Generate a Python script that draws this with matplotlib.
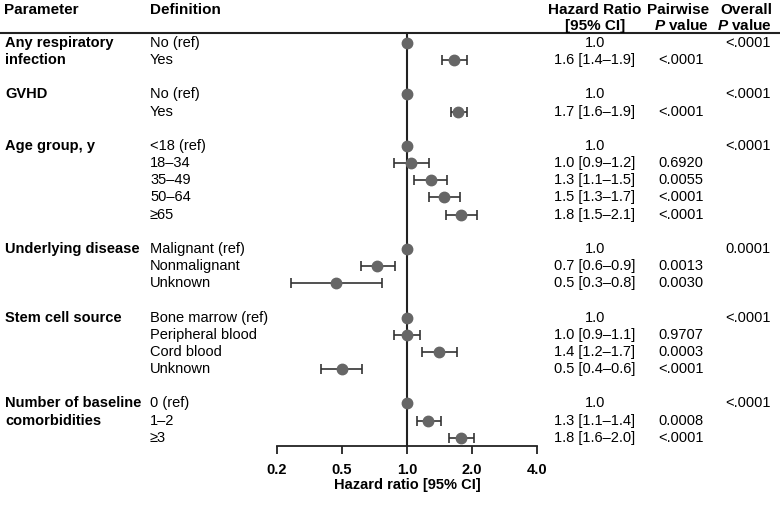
import matplotlib.pyplot as plt
import matplotlib.transforms as mtransforms
from matplotlib.lines import Line2D

plt.rcParams['font.family'] = ['Liberation Sans', 'DejaVu Sans']
plt.rcParams['mathtext.fontset'] = 'custom'
plt.rcParams['mathtext.it'] = 'Liberation Sans:italic:bold'
plt.rcParams['mathtext.rm'] = 'Liberation Sans:bold'

# data
groups = ["Any respiratory\ninfection", "GVHD", "Age group, y", "Underlying disease",
          "Stem cell source", "Number of baseline\ncomorbidities"]
definitions = [
    ["No (ref)", "Yes"],
    ["No (ref)", "Yes"],
    ["<18 (ref)", "18\u201334", "35\u201349", "50\u201364", "\u226565"],
    ["Malignant (ref)", "Nonmalignant", "Unknown"],
    ["Bone marrow (ref)", "Peripheral blood", "Cord blood", "Unknown"],
    ["0 (ref)", "1\u20132", "\u22653"],
]
hr = [
    [1.0, 1.65],
    [1.0, 1.72],
    [1.0, 1.04, 1.29, 1.49, 1.78],
    [1.0, 0.73, 0.47],
    [1.0, 1.0, 1.41, 0.5],
    [1.0, 1.255, 1.78],
]
ci_low = [
    [None, 1.45],
    [None, 1.6],
    [None, 0.87, 1.08, 1.27, 1.51],
    [None, 0.61, 0.29],
    [None, 0.87, 1.17, 0.4],
    [None, 1.11, 1.57],
]
ci_high = [
    [None, 1.9],
    [None, 1.89],
    [None, 1.26, 1.54, 1.76, 2.12],
    [None, 0.88, 0.77],
    [None, 1.15, 1.70, 0.62],
    [None, 1.44, 2.04],
]
hr_text = [
    ["1.0", "1.6 [1.4\u20131.9]"],
    ["1.0", "1.7 [1.6\u20131.9]"],
    ["1.0", "1.0 [0.9\u20131.2]", "1.3 [1.1\u20131.5]", "1.5 [1.3\u20131.7]", "1.8 [1.5\u20132.1]"],
    ["1.0", "0.7 [0.6\u20130.9]", "0.5 [0.3\u20130.8]"],
    ["1.0", "1.0 [0.9\u20131.1]", "1.4 [1.2\u20131.7]", "0.5 [0.4\u20130.6]"],
    ["1.0", "1.3 [1.1\u20131.4]", "1.8 [1.6\u20132.0]"],
]
pairwise_p = [
    ["", "<.0001"],
    ["", "<.0001"],
    ["", "0.6920", "0.0055", "<.0001", "<.0001"],
    ["", "0.0013", "0.0030"],
    ["", "0.9707", "0.0003", "<.0001"],
    ["", "0.0008", "<.0001"],
]
overall_p = ["<.0001", "<.0001", "<.0001", "0.0001", "<.0001", "<.0001"]
xticks = [0.25, 0.5, 1.0, 2.0, 4.0]
xticklabels = ["0.2", "0.5", "1.0", "2.0", "4.0"]

W, H = 780, 505
fig = plt.figure(figsize=(7.8, 5.05), dpi=100)
# axes spans 0.25..4.0 horizontally, from the header rule down to the x axis
ax = fig.add_axes([277 / W, 1 - 446 / H, (537 - 277) / W, (446 - 33) / H])
row_h = 17.16
ax.set_ylim((446 - 43) / row_h, -10 / row_h)
ax.set_xscale('log')
ax.set_xlim(0.25, 4.0)
for s in ['top', 'right', 'left']:
    ax.spines[s].set_visible(False)
ax.spines['bottom'].set_linewidth(1.3)
ax.spines['bottom'].set_color('#222222')
ax.set_yticks([])
ax.set_xticks(xticks)
ax.set_xticklabels(xticklabels, fontweight='bold', fontsize=10.5)
ax.minorticks_off()
ax.tick_params(axis='x', length=6, width=1.3, color='#222222', pad=6)
ax.set_xlabel("Hazard ratio [95% CI]", fontweight='bold', fontsize=10.5, labelpad=1)
ax.axvline(1.0, color='#222222', lw=1.5, zorder=1)

tr = mtransforms.blended_transform_factory(fig.transFigure, ax.transData)
fs = 10.5
dot_color = '#666666'
line_color = '#333333'

slot = 0
for g in range(len(groups)):
    # multi-line group names sit one line per row
    for k, part in enumerate(groups[g].split("\n")):
        ax.text(5 / W, slot + k, part, transform=tr, fontsize=fs, fontweight='bold', va='center')
    ax.text(771 / W, slot, overall_p[g], transform=tr, fontsize=fs, va='center', ha='right')
    for i in range(len(definitions[g])):
        y = slot + i
        ax.text(150 / W, y, definitions[g][i], transform=tr, fontsize=fs, va='center')
        ax.text(595 / W, y, hr_text[g][i], transform=tr, fontsize=fs, va='center', ha='center')
        ax.text(658 / W, y, pairwise_p[g][i], transform=tr, fontsize=fs, va='center')
        if ci_low[g][i] is not None:
            ax.errorbar(hr[g][i], y,
                        xerr=[[hr[g][i] - ci_low[g][i]], [ci_high[g][i] - hr[g][i]]],
                        fmt='none', ecolor=line_color, elinewidth=1.2, capsize=3.5,
                        capthick=1.2, zorder=2)
        ax.plot(hr[g][i], y, 'o', color=dot_color, markersize=7.5, zorder=3, clip_on=False)
    slot += len(definitions[g]) + 1

# header
hy1 = 1 - 10 / H
hy2 = 1 - 26 / H
hfs = 11
fig.text(4 / W, hy1, "Parameter", fontsize=hfs, fontweight='bold', va='center')
fig.text(150 / W, hy1, "Definition", fontsize=hfs, fontweight='bold', va='center')
fig.text(595 / W, hy1, "Hazard Ratio", fontsize=hfs, fontweight='bold', va='center', ha='center')
fig.text(595 / W, hy2, "[95% CI]", fontsize=hfs, fontweight='bold', va='center', ha='center')
fig.text(678 / W, hy1, "Pairwise", fontsize=hfs, fontweight='bold', va='center', ha='center')
fig.text(681 / W, hy2, r"$\mathit{P}$ value", fontsize=hfs, fontweight='bold', va='center', ha='center')
fig.text(772 / W, hy1, "Overall", fontsize=hfs, fontweight='bold', va='center', ha='right')
fig.text(772 / W, hy2, r"$\mathit{P}$ value", fontsize=hfs, fontweight='bold', va='center', ha='right')
fig.add_artist(Line2D([0, 1], [1 - 33 / H, 1 - 33 / H], transform=fig.transFigure,
                      color='#222222', lw=1.5))

fig.savefig("out.png", dpi=100)
